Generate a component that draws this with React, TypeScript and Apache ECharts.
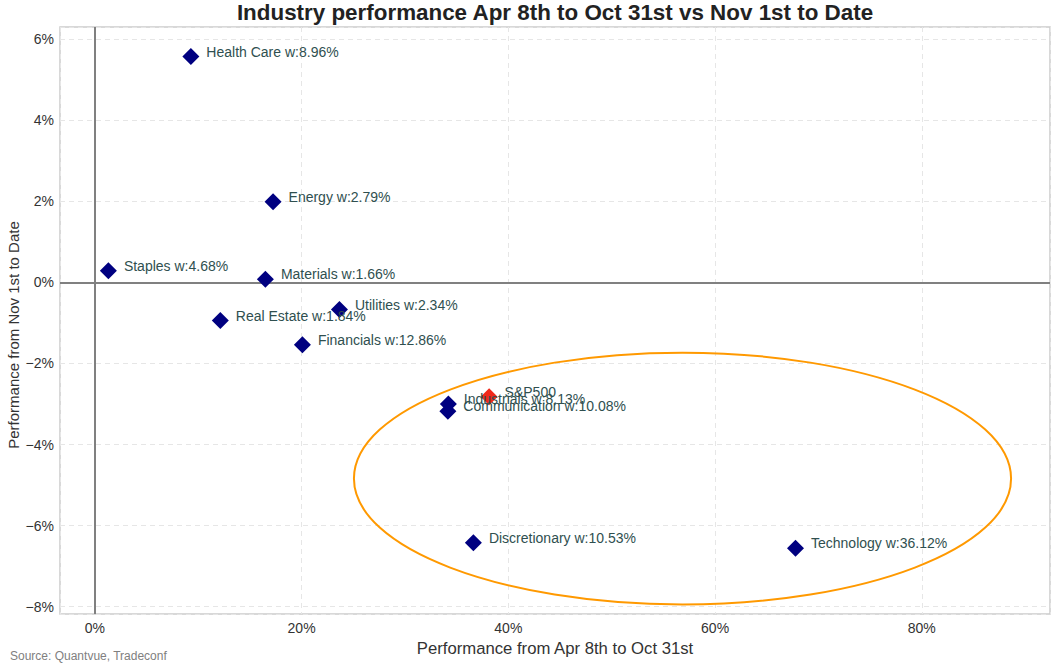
import React, { useEffect, useRef } from "react";
import * as echarts from "echarts";

const SECTORS = [
  "Health Care w:8.96%",
  "Energy w:2.79%",
  "Staples w:4.68%",
  "Materials w:1.66%",
  "Utilities w:2.34%",
  "Real Estate w:1.84%",
  "Financials w:12.86%",
  "Industrials w:8.13%",
  "Communication w:10.08%",
  "Discretionary w:10.53%",
  "Technology w:36.12%",
];
const X_PERF = [9.29, 17.24, 1.31, 16.5, 23.66, 12.14, 20.08, 34.2, 34.15, 36.62, 67.78];
const Y_PERF = [5.57, 1.99, 0.29, 0.08, -0.67, -0.94, -1.54, -3.0, -3.18, -6.42, -6.56];

const SPX_NAME = "S&P500";
const SPX_POINT = [38.14, -2.82];

// ellipse: center x, center y, full width, full height (data units)
const ELLIPSE = [56.85, -4.84, 63.57, 6.21];

const X_RANGE = [-3.37, 92.4];
const Y_RANGE = [-8.18, 6.3];

const FONT = '"Liberation Sans", Arial, Helvetica, sans-serif';

export default function App() {
  const ref = useRef<HTMLDivElement>(null);

  useEffect(() => {
    if (!ref.current) return;
    const chart = echarts.init(ref.current, undefined, { renderer: "svg" });

    const sectorData = SECTORS.map((name, i) => ({
      name,
      value: [X_PERF[i], Y_PERF[i]],
    }));

    const labelCfg = {
      show: true,
      position: "right",
      distance: 7,
      offset: [0, -5],
      formatter: (p: any) => p.name,
      color: "#2F4F4F",
      fontSize: 14,
      fontFamily: FONT,
    };

    const fmtX = (v: number) => {
      if (Math.abs(v - Math.round(v / 20) * 20) > 1e-6) return "";
      return Math.round(v) + "%";
    };
    const fmtY = (v: number) => {
      if (Math.abs(v - Math.round(v / 2) * 2) > 1e-6) return "";
      const r = Math.round(v);
      return (r < 0 ? "\u2212" : "") + Math.abs(r) + "%";
    };

    const option: any = {
      animation: false,
      backgroundColor: "#ffffff",
      textStyle: { fontFamily: FONT },
      grid: {
        left: 60,
        right: 8,
        top: 27,
        bottom: 50,
        containLabel: false,
        outerBoundsMode: "none",
        show: true,
        borderColor: "#cccccc",
        borderWidth: 1.5,
        backgroundColor: "transparent",
      },
      graphic: [
        {
          type: "text",
          x: 555,
          y: 12,
          style: {
            text: "Industry performance Apr 8th to Oct 31st vs Nov 1st to Date",
            fontSize: 22.4,
            fontWeight: "bold",
            fontFamily: FONT,
            fill: "#222222",
            textAlign: "center",
            textVerticalAlign: "middle",
          },
        },
        {
          type: "text",
          x: 13,
          y: 335,
          rotation: Math.PI / 2,
          style: {
            text: "Performance from Nov 1st to Date",
            fontSize: 15,
            fontFamily: FONT,
            fill: "#333333",
            textAlign: "center",
            textVerticalAlign: "middle",
          },
        },
        {
          type: "text",
          x: 10,
          y: 656,
          style: {
            text: "Source: Quantvue, Tradeconf",
            fontSize: 12,
            fontFamily: FONT,
            fill: "#808080",
            textAlign: "left",
            textVerticalAlign: "middle",
          },
        },
      ],
      xAxis: {
        type: "value",
        min: X_RANGE[0],
        max: X_RANGE[1],
        splitNumber: 5,
        minInterval: 20,
        maxInterval: 20,
        name: "Performance from Apr 8th to Oct 31st",
        nameLocation: "middle",
        nameGap: 25,
        nameTextStyle: { fontSize: 16.7, color: "#333333", fontFamily: FONT },
        axisLine: { show: false },
        axisTick: { show: false },
        axisLabel: {
          formatter: fmtX,
          fontSize: 14,
          color: "#333333",
          margin: 7,
          fontFamily: FONT,
        },
        splitLine: {
          show: true,
          lineStyle: { color: "#e6e6e6", type: [5, 4], width: 1 },
        },
      },
      yAxis: {
        type: "value",
        min: Y_RANGE[0],
        max: Y_RANGE[1],
        splitNumber: 7,
        minInterval: 2,
        maxInterval: 2,
        axisLine: { show: false },
        axisTick: { show: false },
        axisLabel: {
          formatter: fmtY,
          fontSize: 14,
          color: "#333333",
          margin: 6,
          fontFamily: FONT,
        },
        splitLine: {
          show: true,
          lineStyle: { color: "#e6e6e6", type: [5, 4], width: 1 },
        },
      },
      series: [
        {
          type: "custom",
          z: 1,
          silent: true,
          clip: true,
          data: [ELLIPSE],
          renderItem: (params: any, api: any) => {
            const c = api.coord([api.value(0), api.value(1)]);
            const s = api.size([api.value(2), api.value(3)]);
            return {
              type: "ellipse",
              shape: { cx: c[0], cy: c[1], rx: s[0] / 2, ry: s[1] / 2 },
              style: { fill: "none", stroke: "#FF9900", lineWidth: 2 },
            };
          },
          markLine: {
            silent: true,
            z: 1,
            symbol: ["none", "none"],
            label: { show: false },
            lineStyle: { color: "#808080", width: 2, type: "solid" },
            data: [{ xAxis: 0 }, { yAxis: 0 }],
          },
        },
        {
          type: "scatter",
          z: 3,
          symbol: "diamond",
          symbolSize: 17,
          itemStyle: { color: "#000080", opacity: 1 },
          label: labelCfg,
          data: sectorData,
        },
        {
          type: "scatter",
          z: 3,
          symbol: "diamond",
          symbolSize: 17,
          itemStyle: { color: "#F0281A", opacity: 1 },
          label: labelCfg,
          data: [{ name: SPX_NAME, value: SPX_POINT }],
        },
      ],
    };

    chart.setOption(option);
    return () => chart.dispose();
  }, []);

  return (
    <div
      ref={ref}
      style={{ position: "fixed", left: 0, top: 0, width: 1058, height: 664 }}
    />
  );
}
